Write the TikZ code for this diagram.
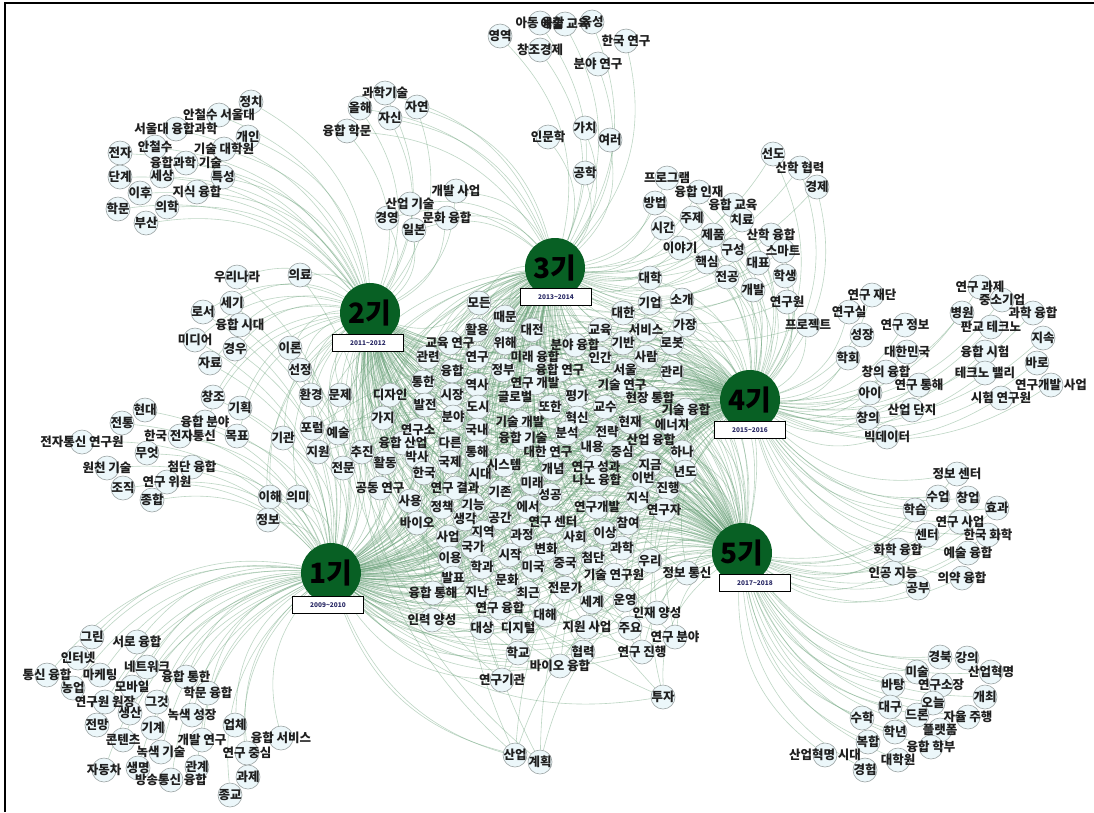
\documentclass[tikz,border=0pt]{standalone}
\usepackage{fontspec}
\setmainfont{Noto Sans CJK KR}
\usetikzlibrary{backgrounds}
\definecolor{edgec}{RGB}{100,158,116}
\definecolor{hubc}{RGB}{8,96,36}
\definecolor{nodef}{RGB}{236,247,250}
\definecolor{noded}{RGB}{155,163,163}
\definecolor{boxt}{RGB}{40,40,100}

\def\LTL{t1/251/102/정치,t2/219/115/안철수 서울대,t3/176/129/서울대 융합과학,t4/248/137/개인,t5/120/153/전자,t6/155/147/안철수,t7/224/149/기술 대학원,t8/186/163/융합과학 기술,t9/120/177/단계,t10/162/176/세상,t11/223/177/특성,t12/140/193/이후,t13/197/192/지식 융합,t14/118/209/학문,t15/167/207/의학,t16/146/223/부산}
\def\LS{s1/385/93/과학기술,s2/360/108/올해,s3/417/107/자연,s4/390/118/자신,s5/347/131/융합 학문,m1/456/191/개발 사업,m2/410/204/산업 기술,m3/387/218/경영,m4/447/218/문화 융합,m5/414/230/일본}
\def\LU{u1/500/36/영역,u10/540/23/아동 융합,u11/565/24/예술 교육,u12/592/22/육성,u2/540/50/창조경제,u3/626/41/한국 연구,u4/598/64/분야 연구,u6/548/137/인문학,u7/585/128/가치,u8/610/140/여러,u9/585/173/공학}
\def\LR{r1/773/154/선도,r2/800/168/산학 협력,r3/817/187/경제,r4/667/178/프로그램,r5/699/192/융합 인재,r6/655/203/방법,r7/733/205/융합 교육,r8/692/218/주제,r9/742/220/치료,r10/663/228/시간,r11/713/235/제품,r12/771/235/산학 융합,r13/680/248/이야기,r14/733/250/구성,r15/783/251/스마트,r16/707/262/핵심,r17/758/263/대표,r18/650/278/대학,r19/727/277/전공,r20/785/276/학생,r21/753/290/개발,r22/787/302/연구원,r23/808/325/프로젝트}
\def\LQ{q1/872/295/연구 재단,q2/849/312/연구실,q3/905/325/연구 정보,q4/862/335/성장,q5/848/358/학회,q6/907/352/대한민국,q7/886/372/창의 융합,q8/919/385/연구 통해,q9/870/393/아이,q10/912/410/산업 단지,q11/868/418/창의,q12/887/437/빅데이터,q13/980/287/연구 과제,q14/1002/300/중소기업,q15/962/313/병원,q16/1033/313/과학 융합,q17/991/327/판교 테크노,q18/1043/338/지속,q19/985/352/융합 시험,q20/1037/363/바로,q21/985/373/테크노 밸리,q22/1051/385/연구개발 사업,q23/1001/398/시험 연구원}
\def\LV{v1/957/474/정보 센터,v2/938/497/수업,v3/968/498/창업,v4/997/508/효과,v5/915/510/학습,v6/960/522/연구 사업,v7/927/535/센터,v8/988/535/한국 화학,v9/898/550/화학 융합,v10/968/553/예술 융합,v11/893/573/인공 지능,v12/918/588/공부,v13/962/578/의약 융합}
\def\LB{b1/940/657/경북,b2/967/658/강의,b3/991/672/산업혁명,b4/917/672/미술,b5/893/685/바탕,b6/941/685/연구소장,b7/985/697/개최,b8/890/707/대구,b9/933/703/오늘,b10/862/718/수학,b11/917/715/드론,b12/968/717/자율 주행,b13/895/732/학년,b14/940/730/플랫폼,b15/868/742/복합,b16/931/747/융합 학부,b17/898/760/대학원,b18/865/770/경험,b19/825/755/산업혁명 시대}
\def\LBL{l1/92/637/그린,l2/137/642/서로 융합,l3/78/658/인터넷,l4/147/667/네트워크,l5/47/675/통신 융합,l6/100/675/마케팅,l7/186/677/융합 통한,l8/73/688/농업,l9/132/687/모바일,l10/208/693/학문 융합,l11/105/702/연구원 원장,l12/157/702/그것,l13/130/713/생산,l14/192/715/녹색 성장,l15/97/725/전망,l16/153/728/기계,l17/235/725/업체,l18/123/740/콘텐츠,l19/202/740/개발 연구,l20/281/738/융합 서비스,l21/161/752/녹색 기술,l22/247/753/연구 중심,l23/104/770/자동차,l24/138/768/생명,l25/197/767/관계,l26/171/780/방송통신 융합,l27/248/777/과제,l28/230/795/종교,k1/145/410/현대,k2/122/423/전통,k3/82/442/전자통신 연구원,k4/180/436/한국 전자통신,k5/147/453/무엇,k6/107/468/원천 기술,k7/192/467/첨단 융합,k8/167/482/연구 위원,k9/123/488/조직,k10/152/500/종합}
\def\LP{p1/237/277/우리나라,p2/232/303/세기,p3/203/312/로서,p4/240/325/융합 시대,p5/195/340/미디어,p6/235/349/경우,p7/210/363/자료,p8/213/397/창조,p9/240/408/기획,p10/205/422/융합 분야,p11/237/436/목표,p12/283/438/기관,p13/300/275/의료,p14/290/348/이론,p15/300/370/선정,p16/311/395/환경,p17/340/395/문제,p18/270/497/이해,p19/298/497/의미,p20/268/520/정보}
\def\LC{c1/479/303/모든,c2/505/317/때문,c3/477/330/활용,c4/532/330/대전,c5/450/343/교육 연구,c6/505/343/위해,c7/428/357/관련,c8/477/357/연구,c9/535/357/미래 융합,c10/452/371/융합,c11/503/370/정부,c12/560/370/융합 연구,c13/423/382/통한,c14/477/385/역사,c15/535/383/연구 개발,c16/390/395/디자인,c17/452/395/시장,c18/515/397/글로벌,c19/425/405/발전,c20/478/407/도시,c21/383/418/가지,c22/453/417/분야,c23/520/422/기술 개발,c24/418/430/연구소,c25/477/430/국내,c26/312/428/포럼,c27/338/433/예술,c28/523/438/융합 기술,c29/403/443/융합 산업,c30/450/443/다른,c31/318/452/지원,c32/362/452/추진,c33/417/457/박사,c34/477/452/통해,c35/548/452/대한 연구,c36/385/463/활동,c37/450/462/국제,c38/343/468/전문,c39/504/465/시스템,c40/424/473/한국,c41/480/474/시대,c42/532/483/미래,c43/380/488/공동 연구,c44/455/488/연구 결과,c45/500/492/기존,c46/410/501/사용,c47/442/507/정책,c48/473/505/기능,c49/528/507/에서,c50/465/519/생각,c51/500/518/공간,c52/417/523/바이오,c53/553/522/연구 센터,c54/448/537/사업,c55/483/532/지역,c56/522/535/과정,c57/473/547/국가,c58/450/558/이용,c59/482/567/학과,c60/510/555/시작,c61/546/549/변화,c62/533/567/미국,c63/453/578/발표,c64/507/580/문화,c65/433/593/융합 통해,c66/477/592/지난,c67/528/593/최근,c68/500/608/연구 융합,c69/545/615/대해,c70/432/620/인력 양성,c71/482/628/대상,c72/518/628/디지털,c73/518/653/학교,c74/560/666/바이오 융합,c75/502/680/연구기관,c76/515/755/산업,c77/540/762/계획,c78/565/563/중국,c79/593/558/첨단,c80/622/548/과학,c81/650/561/우리,c82/614/575/기술 연구원,c83/687/573/정보 통신,c84/565/588/전문가,c85/592/602/세계,c86/625/600/운영,c87/657/613/인재 양성,c88/587/627/지원 사업,c89/630/628/주요,c90/675/637/연구 분야,c91/583/652/협력,c92/642/652/연구 진행,c93/663/697/투자,c94/650/303/기업,c95/682/300/소개,c96/623/313/대한,c97/685/325/가장,c98/600/330/교육,c99/646/330/서비스,c100/575/345/분야 융합,c101/623/343/기반,c102/672/343/로봇,c103/600/358/인간,c104/646/357/사람,c105/625/370/서울,c106/672/372/관리,c107/622/385/기술 연구,c108/577/396/평가,c109/650/398/현장 통합,c110/550/407/또한,c111/605/407/교수,c112/686/410/기술 융합,c113/577/418/혁신,c114/630/422/현재,c115/672/425/에너지,c116/567/433/분석,c117/607/432/전략,c118/651/440/산업 융합,c119/592/447/내용,c120/622/452/중심,c121/682/452/하나,c122/553/469/개념,c123/596/467/연구 성과,c124/650/465/지금,c125/685/472/년도,c126/597/480/나노 융합,c127/643/478/이번,c128/668/488/진행,c129/550/495/성공,c130/638/498/지식,c131/597/507/연구개발,c132/664/510/연구자,c133/628/523/참여,c134/575/537/사회,c135/605/533/이상}

\newcommand\placedots[1]{\foreach \nm/\xx/\yy/\w in #1 {\node[wdot] (\nm) at (\xx,\yy) {};}}
\newcommand\placetexts[1]{\foreach \nm/\xx/\yy/\w in #1 {\node[wtext] (l\nm) at (\nm) {\w};}}
\newcommand\linkto[2]{\foreach \nm/\xx/\yy/\w in #2 {\draw[edge] (#1) to[bend right=28] (\nm);}}

\begin{document}
\begin{tikzpicture}[x=1pt,y=-1pt,
  wdot/.style={circle,draw=noded,fill=nodef,line width=0.6pt,minimum size=24pt,inner sep=0pt},
  wtext/.style={font=\fontsize{12.5}{13}\selectfont\bfseries,text=black!88,inner sep=0pt},
  hub/.style={circle,fill=hubc,minimum size=60pt,inner sep=0pt,font=\fontsize{28}{28}\selectfont\bfseries,text=black},
  yearbox/.style={draw=black,line width=0.9pt,fill=white,minimum width=71pt,minimum height=17pt,inner sep=0pt,font=\fontsize{6.5}{7}\selectfont\bfseries,text=boxt},
  edge/.style={draw=edgec,line width=0.6pt,draw opacity=0.42},
  frame/.style={draw=black,line width=1.2pt}]
\useasboundingbox (0,0) rectangle (1094,812);
% word circles
\placedots{\LTL}\placedots{\LS}\placedots{\LU}\placedots{\LR}\placedots{\LQ}
\placedots{\LV}\placedots{\LB}\placedots{\LBL}\placedots{\LP}\placedots{\LC}
% word labels
\placetexts{\LTL}\placetexts{\LS}\placetexts{\LU}\placetexts{\LR}\placetexts{\LQ}
\placetexts{\LV}\placetexts{\LB}\placetexts{\LBL}\placetexts{\LP}\placetexts{\LC}
% hubs
\node[hub] (h1) at (331,573) {1기};
\node[hub] (h2) at (370,313) {2기};
\node[hub] (h3) at (555,268) {3기};
\node[hub] (h4) at (750,400) {4기};
\node[hub] (h5) at (742,553) {5기};
\node[yearbox] (y1) at (328,605) {2009\textasciitilde2010};
\node[yearbox] (y2) at (368,343) {2011\textasciitilde2012};
\node[yearbox] (y3) at (556,297) {2013\textasciitilde2014};
\node[yearbox] (y4) at (750,430) {2015\textasciitilde2016};
\node[yearbox] (y5) at (755,583) {2017\textasciitilde2018};
\draw[frame] (5,812) -- (5,3) -- (1094,3);
\begin{pgfonlayer}{background}
\fill[white] (0,0) rectangle (1094,812);
\linkto{h2}{\LTL}
\linkto{h2}{\LS}\linkto{h3}{\LS}
\linkto{h3}{\LU}
\linkto{h3}{\LR}\linkto{h4}{\LR}
\linkto{h4}{\LQ}
\linkto{h5}{\LV}\linkto{h4}{\LV}
\linkto{h5}{\LB}
\linkto{h1}{\LBL}
\linkto{h1}{\LP}\linkto{h2}{\LP}
\linkto{h1}{\LC}\linkto{h2}{\LC}\linkto{h3}{\LC}\linkto{h4}{\LC}\linkto{h5}{\LC}
\end{pgfonlayer}
\end{tikzpicture}
\end{document}
